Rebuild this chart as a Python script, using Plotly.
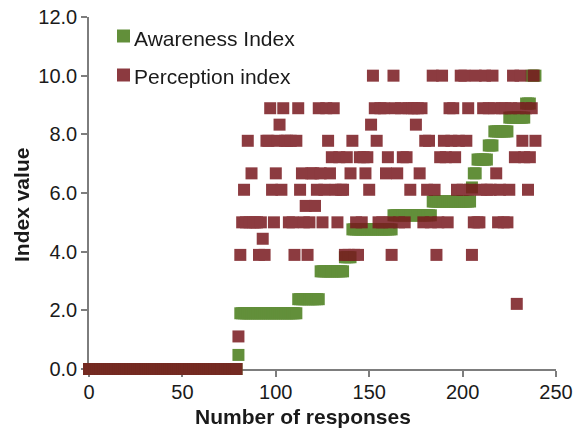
import plotly.graph_objects as go

# ---------------- data ----------------
# Awareness index (responses sorted by awareness), run-length encoded
awareness_levels = [0.0, 0.48, 1.90, 2.38, 3.33, 3.81, 4.76, 5.24, 5.71, 6.19,
                    6.67, 7.14, 7.62, 8.10, 8.57, 9.05, 10.0]
awareness_counts = [80, 1, 31, 12, 13, 4, 22, 21, 21, 1,
                    2, 6, 3, 8, 9, 3, 3]

# Perception index per response (first 80 responses are 0)
perception_leading_zeros = 80
perception_values = [
    1.11, 3.89, 5.0, 6.11, 5.0, 7.78, 5.0, 6.67, 5.0, 5.0,
    5.0, 3.89, 5.0, 4.44, 3.89, 7.78, 7.78, 8.89, 6.11, 5.0,
    6.67, 7.78, 8.33, 6.11, 8.89, 7.78, 7.78, 5.0, 7.78, 5.0,
    3.89, 7.78, 8.89, 6.11, 6.67, 5.0, 5.56, 3.89, 5.0, 6.67,
    6.67, 5.56, 6.11, 8.89, 6.67, 5.0, 6.11, 8.89, 7.78, 6.67,
    7.22, 8.89, 6.11, 5.0, 7.22, 6.11, 6.11, 3.89, 7.22, 3.89,
    6.67, 7.78, 3.89, 5.0, 3.89, 7.22, 5.0, 7.22, 6.67, 7.22,
    6.11, 8.33, 10.0, 8.89, 7.78, 5.0, 8.89, 5.0, 8.89, 6.67,
    7.22, 5.0, 3.89, 10.0, 8.89, 6.67, 5.0, 8.89, 7.22, 5.0,
    7.22, 8.89, 6.11, 8.89, 8.89, 8.33, 8.89, 6.67, 8.89, 5.0,
    7.78, 6.11, 7.78, 5.0, 10.0, 6.11, 3.89, 5.0, 7.22, 10.0,
    7.78, 7.22, 5.0, 8.89, 7.78, 8.89, 7.22, 6.11, 7.78, 10.0,
    6.11, 10.0, 7.78, 8.89, 6.11, 3.89, 5.0, 10.0, 5.0, 5.0,
    6.11, 8.89, 10.0, 6.11, 8.89, 6.11, 10.0, 8.89, 6.67, 5.0,
    6.11, 8.89, 5.0, 8.89, 5.0, 6.11, 8.89, 10.0, 7.22, 2.22,
    8.89, 10.0, 7.78, 7.22, 8.89, 6.11, 7.22, 8.89, 10.0, 7.78,
]

x_ticks = [0, 50, 100, 150, 200, 250]
y_ticks = [0, 2, 4, 6, 8, 10, 12]
y_tick_text = ["0.0", "2.0", "4.0", "6.0", "8.0", "10.0", "12.0"]

series_names = ["Awareness Index", "Perception index"]

# ---------------- build ----------------
awareness = []
for lvl, cnt in zip(awareness_levels, awareness_counts):
    awareness.extend([lvl] * cnt)
perception = [0.0] * perception_leading_zeros + perception_values
responses = list(range(len(awareness)))

GREEN = "rgb(98,143,58)"
RED = "rgb(120,24,30)"
FONT = "Liberation Sans, Arial, sans-serif"

fig = go.Figure()
fig.add_trace(go.Scatter(
    x=responses, y=awareness, mode="markers", name=series_names[0],
    marker=dict(symbol="square", size=12, color=GREEN, line=dict(width=0)),
    cliponaxis=False, showlegend=False,
))
fig.add_trace(go.Scatter(
    x=responses, y=perception, mode="markers", name=series_names[1],
    marker=dict(symbol="square", size=12, color=RED, line=dict(width=0)),
    opacity=0.85, cliponaxis=False, showlegend=False,
))

L, R, T, B = 89, 18, 17, 62
W, H = 574, 431
pw, ph = W - L - R, H - T - B


def px(xp):
    return (xp - L) / pw


def py(yp):
    return (H - B - yp) / ph


# manual legend (square swatch + label)
legend_rows = [(36.0, GREEN, 1.0, series_names[0]), (75.0, RED, 0.85, series_names[1])]
for cy, col, op, label in legend_rows:
    fig.add_shape(type="rect", xref="paper", yref="paper",
                  x0=px(117), x1=px(130), y0=py(cy + 6.5), y1=py(cy - 6.5),
                  fillcolor=col, opacity=op, line=dict(width=0))
    fig.add_annotation(x=px(132), y=py(cy + 2), xref="paper", yref="paper",
                       text=label, showarrow=False, xanchor="left", yanchor="middle",
                       font=dict(family=FONT, size=21, color="#1a1a1a"))

# axis titles
fig.add_annotation(x=px(303), y=py(417), xref="paper", yref="paper",
                   text="<b>Number of responses</b>", showarrow=False,
                   xanchor="center", yanchor="middle",
                   font=dict(family=FONT, size=21, color="#1a1a1a"))
fig.add_annotation(x=px(21), y=py(205), xref="paper", yref="paper",
                   text="<b>Index value</b>", showarrow=False, textangle=-90,
                   xanchor="center", yanchor="middle",
                   font=dict(family=FONT, size=21, color="#1a1a1a"))

axis_col = "rgb(125,125,125)"
fig.update_layout(
    width=W, height=H,
    margin=dict(l=L, r=R, t=T, b=B, pad=0, autoexpand=False),
    paper_bgcolor="white", plot_bgcolor="white",
    font=dict(family=FONT, size=20, color="#1a1a1a"),
    xaxis=dict(range=[0, 250], tickvals=x_ticks, showgrid=False, zeroline=False,
               showline=True, linecolor=axis_col, linewidth=1.5, automargin=False,
               ticks="outside", ticklen=6, tickcolor=axis_col, tickwidth=1.5,
               ticklabelstandoff=-2,
               tickfont=dict(family=FONT, size=20, color="#1a1a1a"),
               layer="below traces"),
    yaxis=dict(range=[0, 12], tickvals=y_ticks, ticktext=y_tick_text, showgrid=False,
               zeroline=False, showline=True, linecolor=axis_col, linewidth=1.5,
               automargin=False,
               ticks="outside", ticklen=6, tickcolor=axis_col, tickwidth=1.5,
               tickfont=dict(family=FONT, size=20, color="#1a1a1a"),
               layer="below traces"),
)

fig.write_html("out.html")
